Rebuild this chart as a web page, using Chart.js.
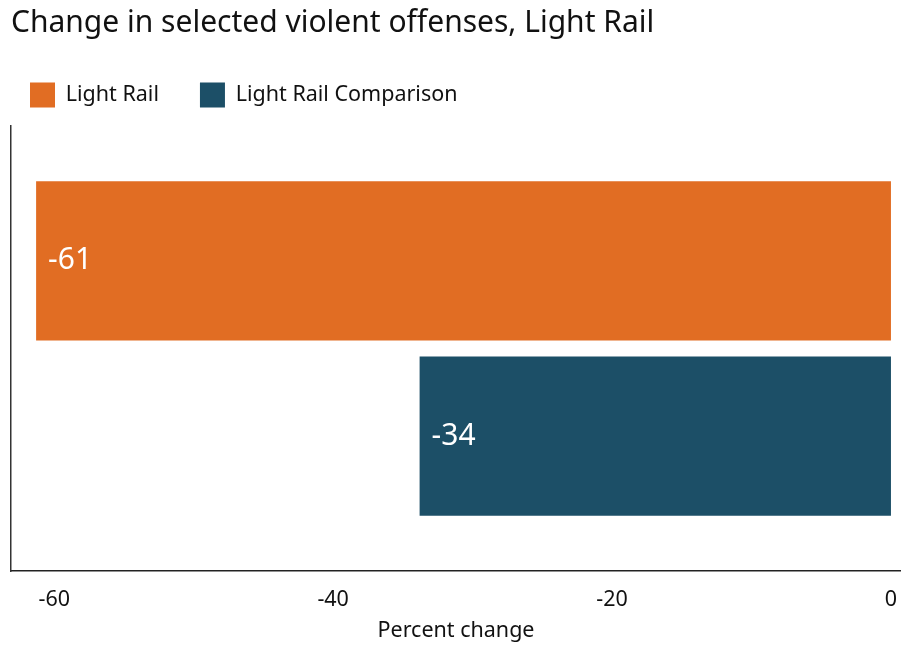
<!DOCTYPE html>
<html>
<head>
<meta charset="utf-8">
<script src="https://cdn.jsdelivr.net/npm/chart.js@4/dist/chart.umd.min.js"></script>
<style>
  html, body { margin: 0; padding: 0; background: #ffffff; }
  #wrap { width: 901px; height: 648px; }
</style>
</head>
<body>
<div id="wrap"><canvas id="c" width="901" height="648"></canvas></div>
<script>
const chartTitle = 'Change in selected violent offenses, Light Rail';
const categories = [''];
const seriesNames = ['Light Rail', 'Light Rail Comparison'];
const lightRailValues = [-61.3];
const comparisonValues = [-33.8];
const xTicks = [-60, -40, -20, 0];
const xAxisTitle = 'Percent change';

const FONT = "'Noto Sans', sans-serif";
const ORANGE = '#E16D23';
const BLUE = '#1C4F67';

const barLabelPlugin = {
  id: 'barLabels',
  afterDatasetsDraw(chart) {
    const ctx = chart.ctx;
    ctx.save();
    ctx.fillStyle = '#ffffff';
    ctx.font = "30px " + FONT;
    ctx.textAlign = 'left';
    ctx.textBaseline = 'middle';
    chart.data.datasets.forEach((ds, i) => {
      const meta = chart.getDatasetMeta(i);
      meta.data.forEach((bar, j) => {
        const v = ds.data[j];
        const left = Math.min(bar.x, bar.base);
        ctx.fillText(String(Math.round(v)), left + 12, bar.y);
      });
    });
    ctx.restore();
  }
};

const legendTweak = {
  id: 'legendTweak',
  beforeInit(chart) {
    const legend = chart.legend;
    const origFit = legend.fit;
    legend.fit = function () {
      origFit.call(this);
      this.height += 8.5;
    };
  },
  afterLayout(chart) {
    chart.legend.left -= 22;
  }
};

new Chart(document.getElementById('c'), {
  type: 'bar',
  data: {
    labels: categories,
    datasets: [
      { label: seriesNames[0], data: lightRailValues, backgroundColor: ORANGE },
      { label: seriesNames[1], data: comparisonValues, backgroundColor: BLUE }
    ]
  },
  options: {
    indexAxis: 'y',
    responsive: false,
    animation: false,
    devicePixelRatio: 1,
    layout: { padding: { left: 11, right: 0, top: 0, bottom: 4 } },
    categoryPercentage: 0.787,
    barPercentage: 0.909,
    plugins: {
      title: {
        display: true,
        text: chartTitle,
        align: 'start',
        color: '#111111',
        font: { family: FONT, size: 30, weight: 'normal' },
        padding: { top: 5, bottom: 0.5 }
      },
      legend: {
        display: true,
        align: 'start',
        labels: {
          boxWidth: 25,
          boxHeight: 25,
          padding: 41,
          color: '#111111',
          font: { family: FONT, size: 21.5 }
        }
      },
      tooltip: { enabled: false }
    },
    scales: {
      x: {
        type: 'linear',
        min: -63.1,
        max: 0.72,
        afterBuildTicks(scale) { scale.ticks = xTicks.map(v => ({ value: v })); },
        afterFit(scale) {
          scale.height = 73;
          scale.paddingLeft = 0;
          scale.paddingRight = 0;
        },
        grid: { display: false, drawTicks: false },
        border: { display: true, color: '#222222', width: 1.5 },
        ticks: { color: '#111111', font: { family: FONT, size: 21.5 }, padding: 16, maxRotation: 0 },
        title: {
          display: true,
          text: xAxisTitle,
          color: '#111111',
          font: { family: FONT, size: 21.5 },
          padding: { top: 0, bottom: 0 }
        }
      },
      y: {
        type: 'category',
        grid: { display: false, drawTicks: false },
        border: { display: true, color: '#333333', width: 1.5 },
        ticks: { display: false },
        afterFit(scale) { scale.width = 0; }
      }
    }
  },
  plugins: [barLabelPlugin, legendTweak]
});
</script>
</body>
</html>
